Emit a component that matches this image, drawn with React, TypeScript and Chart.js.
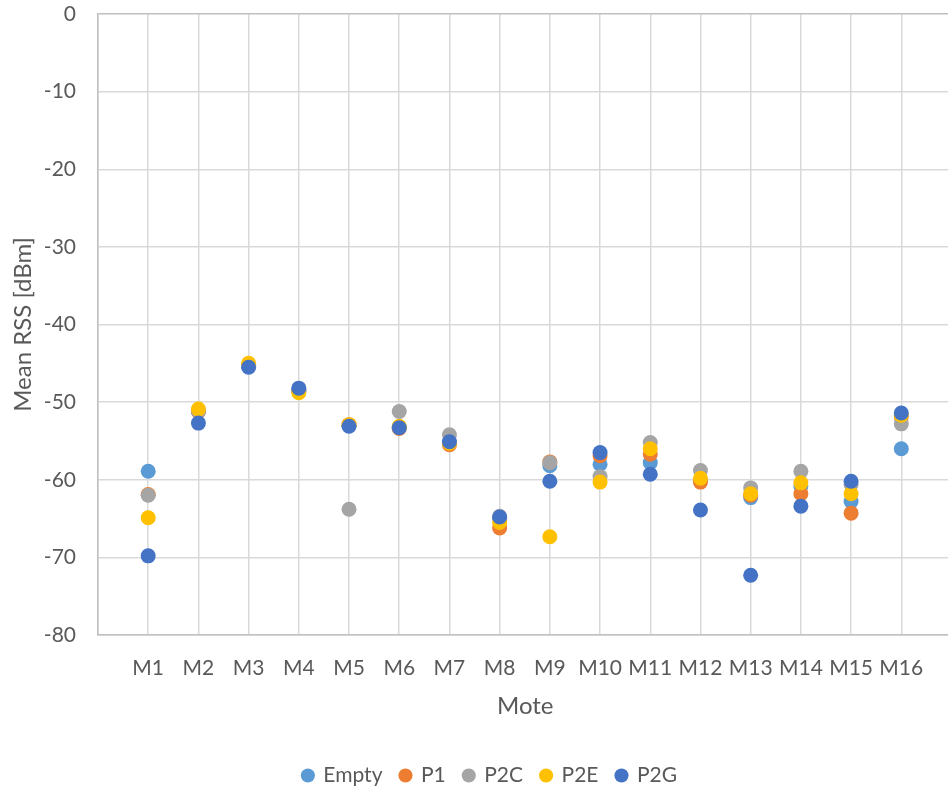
import React, { useEffect, useRef } from 'react';
import { Chart, registerables } from 'chart.js';

Chart.register(...registerables);

const motes = ['M1', 'M2', 'M3', 'M4', 'M5', 'M6', 'M7', 'M8', 'M9', 'M10', 'M11', 'M12', 'M13', 'M14', 'M15', 'M16'];
const seriesNames = ['Empty', 'P1', 'P2C', 'P2E', 'P2G'];
const seriesColors = ['#5B9BD5', '#ED7D31', '#A5A5A5', '#FFC000', '#4472C4'];

const emptyVals = [-58.9, -51.2, -45.3, -48.5, -53.0, -53.2, -55.2, -65.0, -58.2, -58.0, -57.8, -60.1, -62.3, -60.8, -62.8, -56.0];
const p1Vals = [-61.9, -51.2, -45.2, -48.6, -52.9, -53.4, -55.5, -66.2, -57.7, -56.9, -56.7, -60.3, -62.0, -61.8, -64.3, -51.9];
const p2cVals = [-62.0, -51.1, -45.3, -48.4, -63.8, -51.2, -54.2, -64.7, -57.8, -59.6, -55.2, -58.8, -61.05, -58.9, -60.6, -52.8];
const p2eVals = [-64.9, -50.9, -45.0, -48.8, -52.9, -53.1, -55.3, -65.5, -67.35, -60.3, -56.0, -59.8, -61.8, -60.4, -61.8, -51.7];
const p2gVals = [-69.8, -52.7, -45.5, -48.2, -53.1, -53.3, -55.1, -64.8, -60.2, -56.5, -59.3, -63.9, -72.3, -63.4, -60.2, -51.4];

const yMin = -80;
const yMax = 0;
const yStep = 10;
const xMax = 17.02;

const FONT = 'Lato';
const TEXT = '#595959';
const W = 960;
const H = 794;

const legendShift = {
  id: 'legendShift',
  afterLayout(chart: any) {
    const l = chart.legend;
    if (l) {
      l.left += 10;
      l.right += 10;
    }
  },
};

export default function App() {
  const ref = useRef<HTMLCanvasElement>(null);

  useEffect(() => {
    const series = [emptyVals, p1Vals, p2cVals, p2eVals, p2gVals];
    const chart = new Chart(ref.current as HTMLCanvasElement, {
      type: 'scatter',
      data: {
        datasets: series.map((vals, i) => ({
          label: seriesNames[i],
          data: vals.map((v, j) => ({ x: j + 1, y: v })),
          backgroundColor: seriesColors[i],
          borderColor: seriesColors[i],
          borderWidth: 0,
          pointRadius: 7.5,
          pointHoverRadius: 7.5,
          order: seriesNames.length - i,
        })),
      },
      plugins: [legendShift],
      options: {
        responsive: false,
        animation: false,
        devicePixelRatio: 1,
        layout: { padding: { left: 0, right: 0, top: 14, bottom: -2 } },
        plugins: {
          legend: {
            position: 'bottom',
            labels: {
              usePointStyle: true,
              pointStyle: 'circle',
              boxWidth: 10,
              boxHeight: 10,
              padding: 18,
              color: TEXT,
              font: { family: FONT, size: 21 },
              sort: (a: any, b: any) => a.datasetIndex - b.datasetIndex,
            },
          },
          tooltip: { enabled: false },
        },
        scales: {
          x: {
            type: 'linear',
            min: 0,
            max: xMax,
            afterBuildTicks: (scale: any) => {
              scale.ticks = Array.from({ length: motes.length + 1 }, (_, i) => ({ value: i }));
            },
            afterFit: (scale: any) => {
              scale.height = 112;
              scale.paddingLeft = 0;
              scale.paddingRight = 0;
            },
            grid: {
              color: (ctx: any) =>
                ctx.tick && ctx.tick.value > motes.length ? 'rgba(0,0,0,0)' : '#d9d9d9',
              lineWidth: 1.5,
              drawTicks: false,
            },
            border: { color: '#bfbfbf', width: 1.5 },
            ticks: {
              autoSkip: false,
              maxRotation: 0,
              minRotation: 0,
              padding: 21,
              color: TEXT,
              font: { family: FONT, size: 21 },
              callback: (value: any) => motes[Number(value) - 1] ?? '',
            },
            title: {
              display: true,
              text: 'Mote',
              color: TEXT,
              font: { family: FONT, size: 24 },
              padding: { top: 0, bottom: 26 },
            },
          },
          y: {
            min: yMin,
            max: yMax,
            afterFit: (scale: any) => {
              scale.width = 98;
              scale.paddingTop = 0;
              scale.paddingBottom = 0;
            },
            grid: {
              color: (ctx: any) => (ctx.tick && ctx.tick.value === yMax ? '#bfbfbf' : '#d9d9d9'),
              lineWidth: 1.5,
              drawTicks: false,
            },
            border: { color: '#bfbfbf', width: 1.5 },
            ticks: {
              stepSize: yStep,
              padding: 22,
              color: TEXT,
              font: { family: FONT, size: 21 },
            },
            title: {
              display: true,
              text: 'Mean RSS [dBm]',
              color: TEXT,
              font: { family: FONT, size: 24 },
              padding: { top: 8.6, bottom: 0 },
            },
          },
        },
      },
    });
    return () => chart.destroy();
  }, []);

  return (
    <div style={{ position: 'fixed', left: 0, top: 0, width: 948, height: 794, overflow: 'hidden', background: '#fff' }}>
      <canvas ref={ref} width={W} height={H} style={{ display: 'block', width: W, height: H }} />
    </div>
  );
}
